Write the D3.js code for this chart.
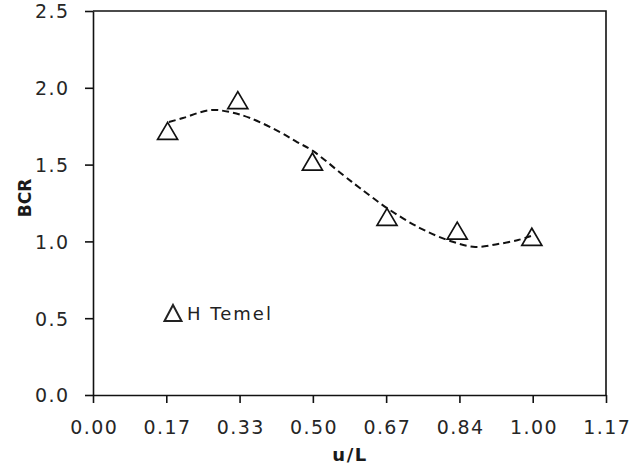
<!DOCTYPE html>
<html>
<head>
<meta charset="utf-8">
<script src="https://cdn.jsdelivr.net/npm/d3@7/dist/d3.min.js"></script>
<style>
  html, body { margin: 0; padding: 0; background: #fff; }
  svg { display: block; }
  text { font-family: "DejaVu Sans", Verdana, sans-serif; }
</style>
</head>
<body>
<svg id="chart" width="644" height="470"></svg>
<script>
// Measured BCR values (H Temel)
const uL  = [0.17, 0.33, 0.50, 0.67, 0.83, 1.00];
const bcr = [1.72, 1.92, 1.52, 1.16, 1.07, 1.03];

// Polynomial trend line, sampled along u/L
const trendX = [0.173, 0.205, 0.267, 0.312, 0.358, 0.426, 0.465, 0.501, 0.570, 0.608, 0.670, 0.745, 0.814, 0.871, 0.923, 0.969, 0.998];
const trendY = [1.777, 1.803, 1.855, 1.842, 1.803, 1.712, 1.647, 1.589, 1.432, 1.348, 1.217, 1.087, 1.003, 0.964, 0.983, 1.009, 1.035];

// Axis ticks
const xTickValues = [0, 0.167, 0.334, 0.501, 0.668, 0.835, 1.002, 1.169];
const xTickLabels = ["0.00", "0.17", "0.33", "0.50", "0.67", "0.84", "1.00", "1.17"];
const yTickValues = [0, 0.5, 1.0, 1.5, 2.0, 2.5];
const yTickLabels = ["0.0", "0.5", "1.0", "1.5", "2.0", "2.5"];

const seriesName = "H Temel";

const svg = d3.select("#chart");
const plot = { left: 93, right: 606, top: 11, bottom: 395 };

const x = d3.scaleLinear().domain([0, 1.169]).range([plot.left, plot.right]);
const y = d3.scaleLinear().domain([0, 2.5]).range([plot.bottom, plot.top]);

svg.append("rect").attr("width", 644).attr("height", 470).attr("fill", "#fff");

// Plot frame (top and right edges)
svg.append("path")
  .attr("d", `M${plot.left},${plot.top}H${plot.right}V${plot.bottom}`)
  .attr("fill", "none").attr("stroke", "#111").attr("stroke-width", 1.6);

// X axis
const xAxis = d3.axisBottom(x)
  .tickValues(xTickValues)
  .tickFormat((d, i) => xTickLabels[i])
  .tickSizeInner(8).tickSizeOuter(0).tickPadding(18);
const gx = svg.append("g").attr("transform", `translate(0,${plot.bottom})`).call(xAxis);

// Y axis
const yAxis = d3.axisLeft(y)
  .tickValues(yTickValues)
  .tickFormat((d, i) => yTickLabels[i])
  .tickSizeInner(8).tickSizeOuter(0).tickPadding(17);
const gy = svg.append("g").attr("transform", `translate(${plot.left},0)`).call(yAxis);

[gx, gy].forEach(g => {
  g.select(".domain").attr("stroke", "#111").attr("stroke-width", 1.6);
  g.selectAll(".tick line").attr("stroke", "#111").attr("stroke-width", 1.6);
  g.selectAll(".tick text")
    .attr("fill", "#262626")
    .style("font-size", "19px")
    .style("letter-spacing", "1.4px")
    .style("font-family", "'DejaVu Sans', Verdana, sans-serif");
});
gx.selectAll(".tick text").attr("dy", "0.7em").attr("dx", "0.7px");
gy.selectAll(".tick text").attr("dy", "0.36em").attr("dx", "1.4px");

// Axis titles
svg.append("text")
  .attr("x", 350).attr("y", 461)
  .attr("text-anchor", "middle")
  .style("font-size", "18px").style("font-weight", "bold")
  .style("letter-spacing", "1.5px")
  .attr("fill", "#1a1a1a")
  .text("u/L");

svg.append("text")
  .attr("transform", "translate(31,198) rotate(-90)")
  .attr("text-anchor", "middle")
  .style("font-size", "17px").style("font-weight", "bold")
  .attr("fill", "#1a1a1a")
  .text("BCR");

// Dashed trend line
const trend = trendX.map((v, i) => [v, trendY[i]]);
svg.append("path")
  .datum(trend)
  .attr("d", d3.line().x(d => x(d[0])).y(d => y(d[1])).curve(d3.curveCatmullRom.alpha(0.5)))
  .attr("fill", "none")
  .attr("stroke", "#111")
  .attr("stroke-width", 2)
  .attr("stroke-dasharray", "7,4");

// Open triangle marker
const tri = (cx, cy, w, h) =>
  `M${cx},${cy - h / 2}L${cx + w / 2},${cy + h / 2}L${cx - w / 2},${cy + h / 2}Z`;

svg.append("g").selectAll("path")
  .data(uL.map((v, i) => [v, bcr[i]]))
  .join("path")
  .attr("d", d => tri(x(d[0]), y(d[1]), 20, 17))
  .attr("fill", "none")
  .attr("stroke", "#111")
  .attr("stroke-width", 1.7);

// Legend
svg.append("path")
  .attr("d", tri(173, 313, 17, 16))
  .attr("fill", "none").attr("stroke", "#222").attr("stroke-width", 2);
svg.append("text")
  .attr("x", 187).attr("y", 320)
  .style("font-size", "18px")
  .style("letter-spacing", "2px")
  .attr("fill", "#222")
  .text(seriesName);
</script>
</body>
</html>
